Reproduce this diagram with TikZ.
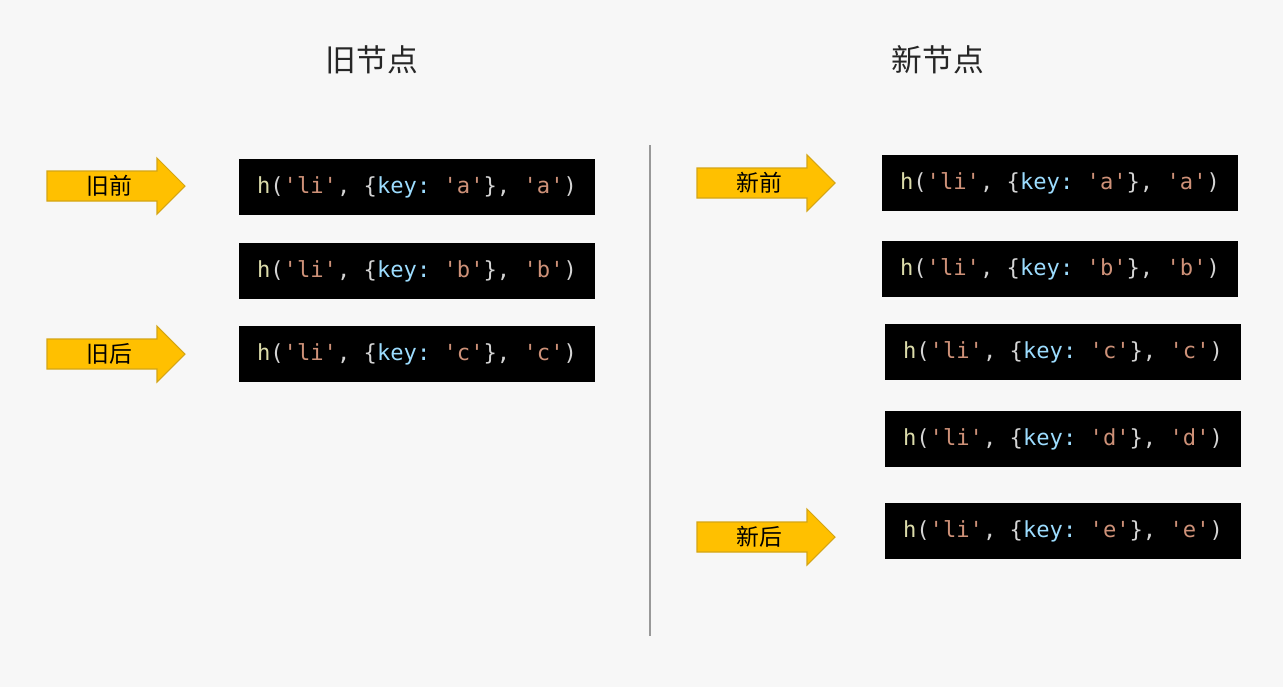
\documentclass[tikz,border=0pt]{standalone}
\usepackage{fontspec}
\newfontfamily\cjk{Noto Sans CJK SC}
\setmonofont{DejaVu Sans Mono}
\definecolor{bgc}{HTML}{F7F7F7}
\definecolor{fnc}{HTML}{DCDCAA}
\definecolor{punc}{HTML}{D4D4D4}
\definecolor{strc}{HTML}{CE9178}
\definecolor{keyc}{HTML}{9CDCFE}
\definecolor{arrfill}{HTML}{FFC000}
\definecolor{arrdraw}{HTML}{D4A514}
\newcommand{\codeline}[1]{\textcolor{fnc}{h}\textcolor{punc}{(}\textcolor{strc}{'li'}\textcolor{punc}{,\ \{}\textcolor{keyc}{key:}\ \textcolor{strc}{'#1'}\textcolor{punc}{\},\ }\textcolor{strc}{'#1'}\textcolor{punc}{)}}
\begin{document}
\begin{tikzpicture}[x=0.02cm,y=-0.02cm,
  codebox/.style={fill=black,draw=none,minimum width=356*0.02cm,minimum height=56*0.02cm,inner sep=0pt,
    font=\ttfamily\fontsize{12.6pt}{14pt}\selectfont},
  title/.style={font=\cjk\fontsize{17.5pt}{20pt}\selectfont,text=black!85,inner sep=0pt},
  arrtext/.style={font=\cjk\fontsize{13pt}{14pt}\selectfont,inner sep=0pt},
  yarrow/.style={fill=arrfill,draw=arrdraw,line width=0.6pt}]
\fill[bgc] (0,0) rectangle (1283,687);
\useasboundingbox (0,0) rectangle (1283,687);
% titles
\node[title] (t1) at (372,60) {旧节点};
\node[title] (t2) at (938,60) {新节点};
% divider
\draw[gray!80,line width=0.6pt] (650,145) -- (650,636);
% left code boxes
\node[codebox] (l1) at (417,187) {\codeline{a}};
\node[codebox] (l2) at (417,271) {\codeline{b}};
\node[codebox] (l3) at (417,354) {\codeline{c}};
% right code boxes
\node[codebox] (r1) at (1060,183) {\codeline{a}};
\node[codebox] (r2) at (1060,269) {\codeline{b}};
\node[codebox] (r3) at (1063,352) {\codeline{c}};
\node[codebox] (r4) at (1063,439) {\codeline{d}};
\node[codebox] (r5) at (1063,531) {\codeline{e}};
% arrows
\foreach \x/\y/\txt/\nm in {47/186/旧前/a1, 47/354/旧后/a2, 697/183/新前/a3, 697/537/新后/a4}{
  \draw[yarrow] (\x,\y-15) -- (\x+110,\y-15) -- (\x+110,\y-28) -- (\x+138,\y) -- (\x+110,\y+28) -- (\x+110,\y+15) -- (\x,\y+15) -- cycle;
  \node[arrtext] (\nm) at (\x+62,\y) {\txt};
}
\end{tikzpicture}
\end{document}
